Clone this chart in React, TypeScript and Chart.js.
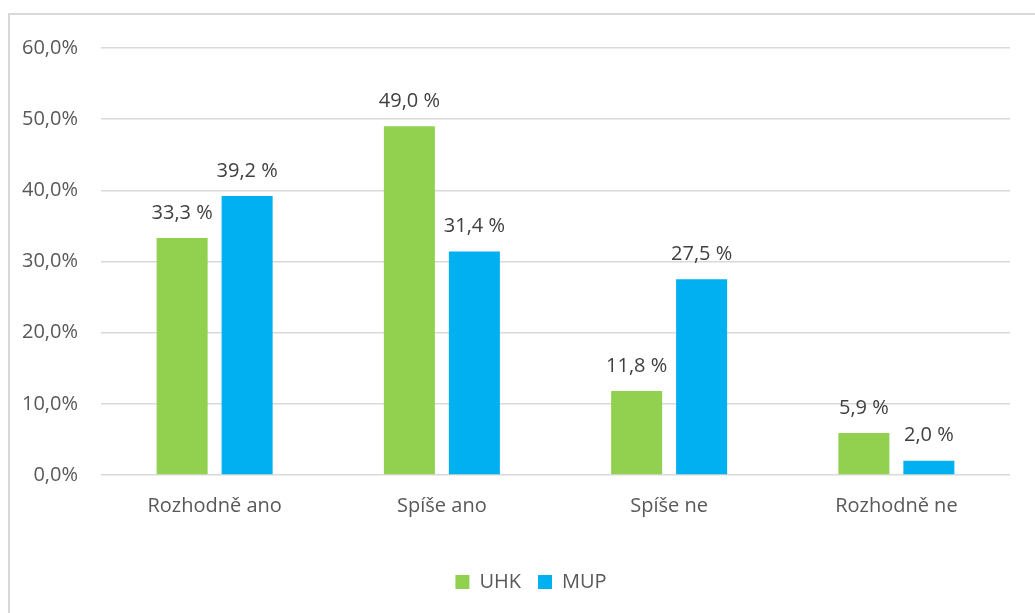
import React, { useEffect, useRef } from "react";
import { Chart, registerables } from "chart.js";

Chart.register(...registerables);

const categories = ["Rozhodně ano", "Spíše ano", "Spíše ne", "Rozhodně ne"];
const uhkValues = [33.3, 49.0, 11.8, 5.9];
const mupValues = [39.2, 31.4, 27.5, 2.0];
const seriesNames = ["UHK", "MUP"];
const seriesColors = ["#92D050", "#00B0F0"];

const FONT = "'Open Sans', 'Noto Sans', sans-serif";
const FONT_SIZE = 20;

const fmt = (v: number) => v.toFixed(1).replace(".", ",");

const dataLabelPlugin = {
  id: "dataLabels",
  afterLayout(chart: any) {
    if (chart.legend) {
      chart.legend.left += 26;
      chart.legend.right += 26;
    }
  },
  afterDatasetsDraw(chart: any) {
    const ctx = chart.ctx;
    ctx.save();
    ctx.font = `${FONT_SIZE}px ${FONT}`;
    ctx.fillStyle = "#404040";
    ctx.textAlign = "center";
    ctx.textBaseline = "middle";
    chart.data.datasets.forEach((ds: any, i: number) => {
      const meta = chart.getDatasetMeta(i);
      meta.data.forEach((el: any, j: number) => {
        ctx.fillText(fmt(ds.data[j]) + " %", el.x, el.y - 25);
      });
    });
    ctx.restore();
  },
};

export default function App() {
  const ref = useRef<HTMLCanvasElement>(null);
  useEffect(() => {
    if (!ref.current) return;
    const chart = new Chart(ref.current, {
      type: "bar",
      data: {
        labels: categories,
        datasets: [
          {
            label: seriesNames[0],
            data: uhkValues,
            backgroundColor: seriesColors[0],
            categoryPercentage: 0.572,
            barPercentage: 0.785,
          },
          {
            label: seriesNames[1],
            data: mupValues,
            backgroundColor: seriesColors[1],
            categoryPercentage: 0.572,
            barPercentage: 0.785,
          },
        ],
      },
      options: {
        animation: false,
        responsive: false,
        layout: { padding: { top: 48, right: 25, bottom: 11, left: 0 } },
        plugins: {
          legend: {
            position: "bottom",
            labels: {
              boxWidth: 14,
              boxHeight: 14,
              padding: 17,
              color: "#595959",
              font: { family: FONT, size: FONT_SIZE },
            },
          },
          tooltip: { enabled: false },
        },
        scales: {
          x: {
            grid: { display: false },
            border: { display: false },
            ticks: {
              color: "#595959",
              padding: 11,
              font: { family: FONT, size: FONT_SIZE },
            },
            afterFit: (scale: any) => {
              scale.height = 80;
            },
          },
          y: {
            min: 0,
            max: 60,
            border: { display: false },
            grid: { color: "#d9d9d9", lineWidth: 1.5, drawTicks: false },
            ticks: {
              stepSize: 10,
              padding: 23,
              color: "#595959",
              font: { family: FONT, size: FONT_SIZE },
              callback: (v: any) => fmt(Number(v)) + "%",
            },
            afterFit: (scale: any) => {
              scale.width = 101;
            },
          },
        },
      },
      plugins: [dataLabelPlugin],
    });
    return () => chart.destroy();
  }, []);
  return (
    <div>
      <div
        style={{
          position: "fixed",
          left: 8,
          top: 13,
          width: 1100,
          height: 700,
          border: "2px solid #d9d9d9",
          boxSizing: "border-box",
        }}
      />
      <canvas
        ref={ref}
        width={1035}
        height={613}
        style={{ position: "fixed", left: 0, top: 0, width: 1035, height: 613 }}
      />
    </div>
  );
}
